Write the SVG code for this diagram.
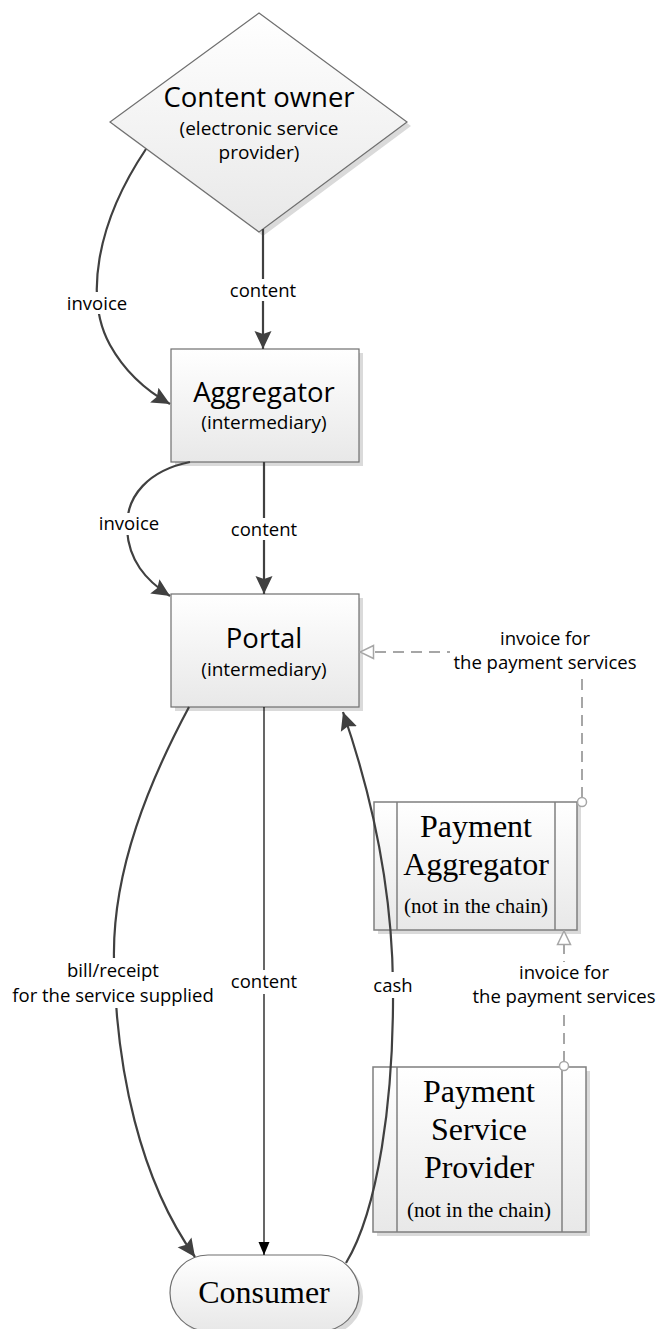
<svg xmlns="http://www.w3.org/2000/svg" width="657" height="1329" viewBox="0 0 657 1329">
<defs>
<style>
.sans{font-family:"Open Sans","Liberation Sans",sans-serif;fill:#000;text-anchor:middle}
.serif{font-family:"Liberation Serif","Times New Roman",serif;fill:#000;text-anchor:middle}
.title{font-size:27.5px}
.sub{font-size:19px}
.lbl{font-size:18.5px}
.stitle{font-size:32px}
.ssub{font-size:21px}
.node{fill:url(#grad);stroke:#6f6f6f;stroke-width:1.2}
.pbox{fill:url(#grad);stroke:#7f7f7f;stroke-width:1.5}
.shadow{fill:#dadada}
.conn{fill:none;stroke:#404040;stroke-width:2.2}
.thin{fill:none;stroke:#000;stroke-width:1.2}
.dash{fill:none;stroke:#a6a6a6;stroke-width:2;stroke-dasharray:11 7}
.lblbg{fill:#fff}
</style>
<linearGradient id="grad" x1="0" y1="0" x2="0" y2="1">
<stop offset="0" stop-color="#ffffff"/>
<stop offset="1" stop-color="#e8e8e8"/>
</linearGradient>
<marker id="ah" markerUnits="userSpaceOnUse" markerWidth="20" markerHeight="20" viewBox="0 0 20 20" refX="18" refY="10" orient="auto">
<path d="M0,1.5 L18,10 L0,18.5 L3,10 z" fill="#404040"/>
</marker>
<marker id="ahs" markerUnits="userSpaceOnUse" markerWidth="14" markerHeight="12" viewBox="0 0 14 12" refX="13" refY="6" orient="auto">
<path d="M0,0.5 L13,6 L0,11.5 z" fill="#000"/>
</marker>
<marker id="ahh" markerUnits="userSpaceOnUse" markerWidth="16" markerHeight="16" viewBox="0 0 16 16" refX="15" refY="8" orient="auto">
<path d="M1.5,1.5 L15,8 L1.5,14.5 z" fill="#fff" stroke="#a6a6a6" stroke-width="1.5"/>
</marker>
</defs>
<rect width="657" height="1329" fill="#fff"/>

<g id="content-owner">
<polygon class="shadow" points="263,17 411,126 263,236 114,126"/>
<polygon class="node" points="259,13 407,122 259,232 110,122"/>
<text class="sans title" x="259" y="107">Content owner</text>
<text class="sans sub" x="259" y="135">(electronic service</text>
<text class="sans sub" x="259" y="159">provider)</text>
</g>

<g id="aggregator">
<rect class="shadow" x="175" y="353" width="188" height="113"/>
<rect class="node" x="171" y="349" width="188" height="113"/>
<text class="sans title" x="264" y="402">Aggregator</text>
<text class="sans sub" x="264" y="429">(intermediary)</text>
</g>

<g id="portal">
<rect class="shadow" x="175" y="598" width="188" height="113"/>
<rect class="node" x="171" y="594" width="188" height="113"/>
<text class="sans title" x="264" y="648">Portal</text>
<text class="sans sub" x="264" y="676">(intermediary)</text>
</g>

<g id="payment-aggregator">
<rect class="shadow" x="378" y="806" width="203" height="128"/>
<rect class="pbox" x="374" y="802" width="203" height="128"/>
<line x1="397" y1="802" x2="397" y2="930" stroke="#7f7f7f" stroke-width="1.5"/>
<line x1="555" y1="802" x2="555" y2="930" stroke="#7f7f7f" stroke-width="1.5"/>
<text class="serif stitle" x="476" y="837">Payment</text>
<text class="serif stitle" x="476" y="875">Aggregator</text>
<text class="serif ssub" x="476" y="913">(not in the chain)</text>
</g>

<g id="payment-service-provider">
<rect class="shadow" x="377" y="1071" width="213" height="165"/>
<rect class="pbox" x="373" y="1067" width="213" height="165"/>
<line x1="397" y1="1067" x2="397" y2="1232" stroke="#7f7f7f" stroke-width="1.5"/>
<line x1="562" y1="1067" x2="562" y2="1232" stroke="#7f7f7f" stroke-width="1.5"/>
<text class="serif stitle" x="479" y="1102">Payment</text>
<text class="serif stitle" x="479" y="1140">Service</text>
<text class="serif stitle" x="479" y="1178">Provider</text>
<text class="serif ssub" x="479" y="1217">(not in the chain)</text>
</g>

<g id="consumer">
<rect class="shadow" x="174" y="1259" width="189" height="76" rx="38"/>
<rect class="node" x="170" y="1255" width="189" height="76" rx="38"/>
<text class="serif stitle" x="264" y="1303">Consumer</text>
</g>

<g id="connectors">
<path class="conn" d="M146,149 C95,225 85,300 110,345 C125,372 145,390 170,404" marker-end="url(#ah)"/>
<path class="conn" d="M263,229 V349" marker-end="url(#ah)"/>
<path class="conn" d="M190,462 C150,470 125,495 127,530 C129,560 145,580 170,596" marker-end="url(#ah)"/>
<path class="conn" d="M264,462 V594" marker-end="url(#ah)"/>
<path class="conn" d="M189,707 C150,780 112,870 114,960 C116,1070 140,1180 195,1257" marker-end="url(#ah)"/>
<path class="thin" d="M264,707 V1255" marker-end="url(#ahs)"/>
<path class="conn" d="M346,1263 C378,1210 394,1100 393,985 C392,880 370,790 343,712" marker-end="url(#ah)"/>
<path class="dash" d="M582,798 V652 H360" marker-end="url(#ahh)"/>
<path class="dash" d="M564,1062 V931" marker-end="url(#ahh)"/>
<circle cx="582" cy="802" r="4.5" fill="#fff" stroke="#a6a6a6" stroke-width="1.5"/>
<circle cx="564" cy="1066" r="4.5" fill="#fff" stroke="#a6a6a6" stroke-width="1.5"/>
</g>

<g id="labels">
<rect class="lblbg" x="66" y="292" width="62" height="22"/>
<text class="sans lbl" x="97" y="310">invoice</text>
<rect class="lblbg" x="228" y="279" width="70" height="22"/>
<text class="sans lbl" x="263" y="297">content</text>
<rect class="lblbg" x="98" y="513" width="62" height="22"/>
<text class="sans lbl" x="129" y="530">invoice</text>
<rect class="lblbg" x="229" y="518" width="70" height="22"/>
<text class="sans lbl" x="264" y="536">content</text>
<rect class="lblbg" x="450" y="628" width="190" height="50"/>
<text class="sans lbl" x="545" y="645">invoice for</text>
<text class="sans lbl" x="545" y="669">the payment services</text>
<rect class="lblbg" x="470" y="962" width="188" height="48"/>
<text class="sans lbl" x="564" y="979">invoice for</text>
<text class="sans lbl" x="564" y="1003">the payment services</text>
<rect class="lblbg" x="10" y="958" width="206" height="50"/>
<text class="sans lbl" x="113" y="977">bill/receipt</text>
<text class="sans lbl" x="113" y="1002">for the service supplied</text>
<rect class="lblbg" x="229" y="970" width="70" height="24"/>
<text class="sans lbl" x="264" y="988">content</text>
<rect class="lblbg" x="373" y="972" width="40" height="26"/>
<text class="sans lbl" x="393" y="992">cash</text>
</g>
</svg>
